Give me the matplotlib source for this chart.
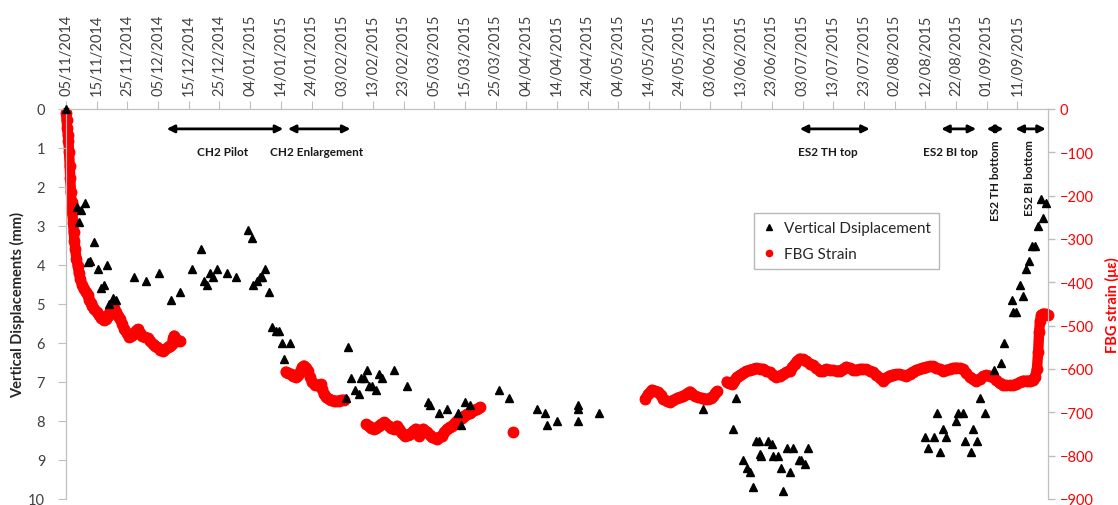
import matplotlib
matplotlib.use("Agg")
import matplotlib.pyplot as plt
import matplotlib.dates as mdates
from matplotlib.lines import Line2D
import numpy as np
import pandas as pd

plt.rcParams['font.family'] = ['Lato', 'DejaVu Sans']

START = "2014-11-05"
END_DAYS = 320
TICK_EVERY = "10D"
TICK_LAST = "2015-09-11"

# ---- Vertical displacement (days since 05/11/2014, mm) ----
disp_days = [0, 3.6, 4.3, 4.9, 6.2, 7.3, 7.9, 9.0, 10.3, 11.4, 12.3, 13.3, 14.1, 15.2, 16.3,
             22.2, 26.2, 30.2, 34.2, 37.1, 41.0, 44.1, 45.0, 45.9, 47.0, 48.0, 49.3, 52.4, 55.3,
             59.4, 60.5, 61.0, 62.1, 63.2, 64.0, 65.0, 66.2, 67.2, 68.3, 69.4, 70.3, 71.0, 73.0,
             91.1, 92.0, 93.0, 94.1, 95.4, 96.0, 97.0, 98.2, 98.7, 99.8, 101.0, 102.0, 103.0,
             106.8, 111.2, 117.9, 118.7, 121.5, 124.2, 127.6, 128.7, 130.1, 131.7, 141.0, 144.2,
             153.4, 156.1, 156.9, 160.0, 167.0, 167.0, 167.0, 173.8, 207.6, 217.4, 218.2,
             220.7, 222.0, 223.0, 224.0, 224.8, 225.9, 226.1, 226.6, 228.8, 229.9, 230.4, 232.0,
             232.9, 233.7, 234.8, 235.8, 236.9, 238.9, 239.6, 240.7, 241.8,
             279.8, 280.9, 282.8, 283.8, 284.7, 285.8, 286.9, 289.9, 290.7, 292.3, 292.8, 295.0,
             295.7, 296.8, 298.0, 299.6, 302.5, 304.7, 305.8, 308.3, 308.7, 309.6, 310.9, 311.7,
             312.8, 313.7, 314.8, 315.9, 316.6, 317.7, 318.5, 319.3]
disp_mm = [0.0, 2.5, 2.9, 2.6, 2.4, 3.93, 3.9, 3.4, 4.1, 4.6, 4.5, 4.0, 5.0, 4.85, 4.9,
           4.3, 4.4, 4.2, 4.9, 4.7, 4.1, 3.6, 4.4, 4.5, 4.2, 4.3, 4.1, 4.2, 4.3,
           3.1, 3.3, 4.5, 4.4, 4.3, 4.3, 4.1, 4.7, 5.6, 5.7, 5.7, 6.0, 6.4, 6.0,
           7.4, 6.1, 6.9, 7.2, 7.3, 6.9, 6.9, 6.7, 7.1, 7.1, 7.2, 6.8, 6.9,
           6.7, 7.1, 7.5, 7.6, 7.8, 7.7, 7.8, 8.1, 7.5, 7.6, 7.2, 7.4,
           7.7, 7.8, 8.1, 8.0, 7.6, 7.7, 8.0, 7.8, 7.7, 8.2, 7.4,
           9.0, 9.2, 9.3, 9.7, 8.5, 8.5, 8.85, 8.9, 8.5, 8.6, 8.9, 8.9,
           9.2, 9.8, 8.7, 9.3, 8.7, 9.0, 9.0, 9.1, 8.7,
           8.4, 8.7, 8.4, 7.8, 8.8, 8.2, 8.4, 8.0, 7.8, 7.8, 8.5, 8.8,
           8.2, 8.5, 7.4, 7.8, 6.7, 6.5, 6.0, 4.9, 5.2, 5.2, 4.5, 4.8,
           4.1, 3.9, 3.5, 3.5, 3.0, 2.3, 2.8, 2.4]

# ---- FBG strain (days since 05/11/2014, microstrain); None separates gaps ----
fbg_days = [0.0, 0.2, 0.4, 0.6, 0.8, 1.0, 1.2, 1.4, 1.6, 1.8, 2.05, 2.3, 2.5, 2.75, 3.0, 3.4, 3.8,
            4.2, 4.66, 5.2, 5.75, 6.4, 7.05, 7.6, 8.1, 8.6, 9.2, 10.0, 10.8, 11.5, 12.3, 13.0,
            13.6, 14.4, 15.2, 15.7, 16.3, 17.0, 17.7, 18.3, 19.0, 19.8, 20.6, 21.3, 22.0, 22.7,
            23.3, 24.1, 24.9, 25.7, 26.6, 27.4, 28.2, 29.0, 29.8, 30.7, 31.5, 32.3, 33.1, 33.8,
            34.5, 35.0, 35.2, 35.8, 36.3, 37.2,
            None,
            71.6, 72.4, 73.2, 74.0, 74.8, 75.5, 76.2, 76.9, 77.5, 78.2, 78.8, 79.5, 80.2, 81.0,
            81.9, 83.0, 83.5, 84.0, 84.8, 85.7, 86.5, 87.3, 88.1, 88.9, 89.7, 90.5,
            None,
            97.8, 98.7, 99.5, 100.3, 101.1, 101.9, 102.8, 103.6, 104.4, 105.2, 106.0, 106.8,
            107.4, 107.9, 108.6, 109.2, 109.9, 110.6, 111.4, 112.2, 113.0, 113.9, 114.4, 114.9,
            115.6, 116.4, 117.0, 117.7, 118.5, 119.3, 120.1, 120.9, 121.7, 122.5, 123.3, 124.2,
            125.0, 125.8, 126.6, 127.4, 128.2, 129.0, 129.8, 130.7, 131.5, 132.3, 133.1, 133.9,
            135.0,
            None,
            145.6,
            None,
            188.7, 189.8, 190.9, 192.0, 193.0, 193.8, 194.6, 195.7, 196.8, 197.9, 199.0, 200.0,
            201.1, 202.2, 203.3, 204.1, 204.9, 206.0, 207.1, 208.2, 209.3, 210.1, 210.9, 211.6,
            212.2,
            None,
            215.3, 216.1, 216.9, 217.7, 218.5, 219.6, 220.7, 221.7, 222.8, 223.9, 225.0, 226.1,
            227.2, 228.2, 229.3, 230.4, 231.5, 232.6, 233.7, 234.7, 235.8, 236.7, 237.5, 238.3,
            239.1, 240.2, 241.3, 242.4, 243.4, 244.5, 245.6, 246.7, 247.8, 248.9, 250.0, 251.1,
            252.2, 253.3, 254.3, 255.4, 256.5, 257.5, 258.6, 259.7, 260.8, 261.9, 262.9, 264.0,
            265.1, 266.2, 267.3, 268.4, 269.5, 270.5, 271.6, 272.7, 273.8, 274.9, 276.0, 277.1,
            278.1, 279.2, 280.3, 281.4, 282.5, 283.6, 284.7, 285.8, 286.9, 288.0, 289.0, 290.1,
            291.2, 292.3, 293.4, 294.5, 295.6, 296.7, 297.7, 298.8, 299.9, 301.0, 302.1, 303.2,
            304.2, 305.3, 306.4, 307.5, 308.6, 309.7, 310.8, 311.9, 313.0, 314.1, 315.0, 315.8,
            316.4, 316.8, 317.1, 317.4, 317.8, 318.5, 319.3, 320.0]
fbg_strain = [-10, -25, -45, -60, -75, -100, -131, -160, -192, -215, -238, -262, -284, -305, -323,
              -345, -362, -378, -392, -405, -415, -422, -430, -440, -448, -455, -462, -468, -475,
              -482, -488, -484, -477, -466, -458, -460, -469, -477, -485, -496, -508, -518, -527,
              -524, -519, -512, -508, -516, -523, -527, -529, -536, -542, -546, -550, -555, -558,
              -554, -550, -546, -542, -528, -523, -530, -535, -535,
              None,
              -606, -609, -612, -616, -619, -614, -608, -596, -592, -597, -604, -618, -631, -636,
              -638, -635, -646, -658, -664, -669, -672, -673, -674, -673, -672, -671,
              None,
              -728, -732, -736, -738, -735, -731, -727, -723, -727, -731, -735, -738,
              -734, -731, -739, -746, -751, -754, -752, -750, -744, -738, -746, -754,
              -746, -738, -742, -746, -752, -758, -760, -762, -758, -754, -746, -738,
              -734, -731, -725, -719, -715, -712, -708, -704, -701, -698, -695, -692,
              -688,
              None,
              -745,
              None,
              -669, -658, -648, -651, -654, -661, -669, -673, -677, -672, -668, -665,
              -662, -657, -652, -657, -662, -665, -668, -669, -669, -666, -662, -656,
              -651,
              None,
              -629, -632, -635, -627, -619, -614, -609, -605, -602, -600, -598, -599,
              -600, -604, -608, -613, -619, -615, -612, -608, -604, -596, -588, -581,
              -576, -578, -581, -588, -591, -598, -604, -605, -600, -602, -603, -604,
              -604, -600, -595, -598, -602, -602, -600, -600, -601, -604, -608, -614,
              -620, -627, -620, -615, -613, -612, -612, -614, -615, -611, -606, -603,
              -600, -597, -595, -594, -594, -597, -601, -604, -603, -600, -598, -597,
              -598, -601, -610, -619, -624, -627, -623, -617, -614, -616, -619, -626,
              -633, -636, -638, -638, -638, -635, -631, -627, -627, -627, -625, -618,
              -600, -560, -515, -490, -475, -472, -473, -475]

# ---- Construction stage annotations ----
stage_labels = ["CH2 Pilot", "CH2 Enlargement", "ES2 TH top", "ES2 BI top",
                "ES2 TH bottom", "ES2 BI bottom"]
stage_start = [32.8, 72.3, 239.1, 285.2, 300.0, 309.4]
stage_end = [70.8, 92.7, 261.9, 296.6, 305.5, 319.3]
stage_text_day = [51.0, 81.6, 248.3, 288.1, 302.9, 314.0]
stage_vertical = [False, False, False, False, True, True]

start_num = mdates.date2num(pd.Timestamp(START))
tick_dates = pd.date_range(START, TICK_LAST, freq=TICK_EVERY)
tick_labels = [d.strftime("%d/%m/%Y") for d in tick_dates]

def to_x(days):
    return [np.nan if d is None else start_num + d for d in days]

def to_y(vals):
    return [np.nan if v is None else v for v in vals]

W, H = 1118, 506
fig = plt.figure(figsize=(W / 100, H / 100), dpi=100)
L, R, T, B = 66, 1048, 110, 500
ax = fig.add_axes([L / W, 1 - B / H, (R - L) / W, (B - T) / H])
ax2 = ax.twinx()
ax.set_zorder(ax2.get_zorder() + 1)
ax.patch.set_visible(False)

grey = "#bfbfbf"
txt = "#404040"

# FBG strain (right axis)
ax2.plot(to_x(fbg_days), to_y(fbg_strain), color="#ff0000", lw=7.5, marker="o", ms=7.5,
         solid_capstyle="round", solid_joinstyle="round", clip_on=False, zorder=2)
ax2.set_ylim(-900, 0)
ax2.set_yticks(np.arange(-900, 1, 100))
ax2.tick_params(axis="y", colors="#ff0000", labelsize=10.5, length=5, color=grey, width=1)
ax2.set_ylabel("FBG strain (με)", color="#ff0000", fontsize=10.5, fontweight="bold",
               labelpad=8)

# Vertical displacement (left axis)
ax.plot(to_x(disp_days), disp_mm, linestyle="none", marker="^", ms=6, color="black",
        zorder=5, clip_on=False)
ax.set_ylim(10, 0)
ax.set_yticks(range(0, 11))
ax.set_ylabel("Vertical Displacements (mm)", fontsize=10.5, fontweight="bold", color="#262626")
ax.yaxis.set_label_coords((25 - L) / (R - L), 0.5)
ax.tick_params(axis="y", labelsize=10.5, labelcolor=txt, length=6, color=grey, pad=9)

ax.set_xlim(start_num, start_num + END_DAYS)
ax.xaxis.tick_top()
ax.set_xticks(mdates.date2num(tick_dates))
ax.set_xticklabels(tick_labels, rotation=90, fontsize=10.5, color=txt)
ax.tick_params(axis="x", length=6, color=grey, pad=4)
ax2.tick_params(axis="x", top=False, bottom=False)

for a in (ax, ax2):
    for s in a.spines.values():
        s.set_color(grey)
    a.spines["bottom"].set_visible(False)

# Stage annotations
for lab, s, e, tday, vert in zip(stage_labels, stage_start, stage_end, stage_text_day, stage_vertical):
    ax.annotate("", xy=(start_num + e, 0.51), xytext=(start_num + s, 0.51),
                arrowprops=dict(arrowstyle="<|-|>", color="black", lw=2,
                                mutation_scale=11, shrinkA=0, shrinkB=0), zorder=6)
    if vert:
        ax.text(start_num + tday, 0.78, lab, rotation=90, ha="center", va="top",
                fontsize=8.5, fontweight="bold", color="#1a1a1a")
    else:
        ax.text(start_num + tday, 1.08, lab, ha="center", va="center",
                fontsize=8.5, fontweight="bold", color="#1a1a1a")

handles = [Line2D([], [], linestyle="none", marker="^", ms=4.5, color="black"),
           Line2D([], [], linestyle="none", marker="o", ms=4.5, color="#ff0000")]
leg = ax.legend(handles, ["Vertical Dsiplacement", "FBG Strain"], loc="upper left",
                bbox_to_anchor=((754 - L) / (R - L), (B - 214) / (B - T)),
                fontsize=11, frameon=True, fancybox=False, edgecolor="#a6a6a6",
                handlelength=0.8, handletextpad=0.6, borderpad=0.55, labelspacing=0.75,
                borderaxespad=0)
leg.get_frame().set_linewidth(1)
for t in leg.get_texts():
    t.set_color("#262626")

fig.savefig("out.png", dpi=100)
